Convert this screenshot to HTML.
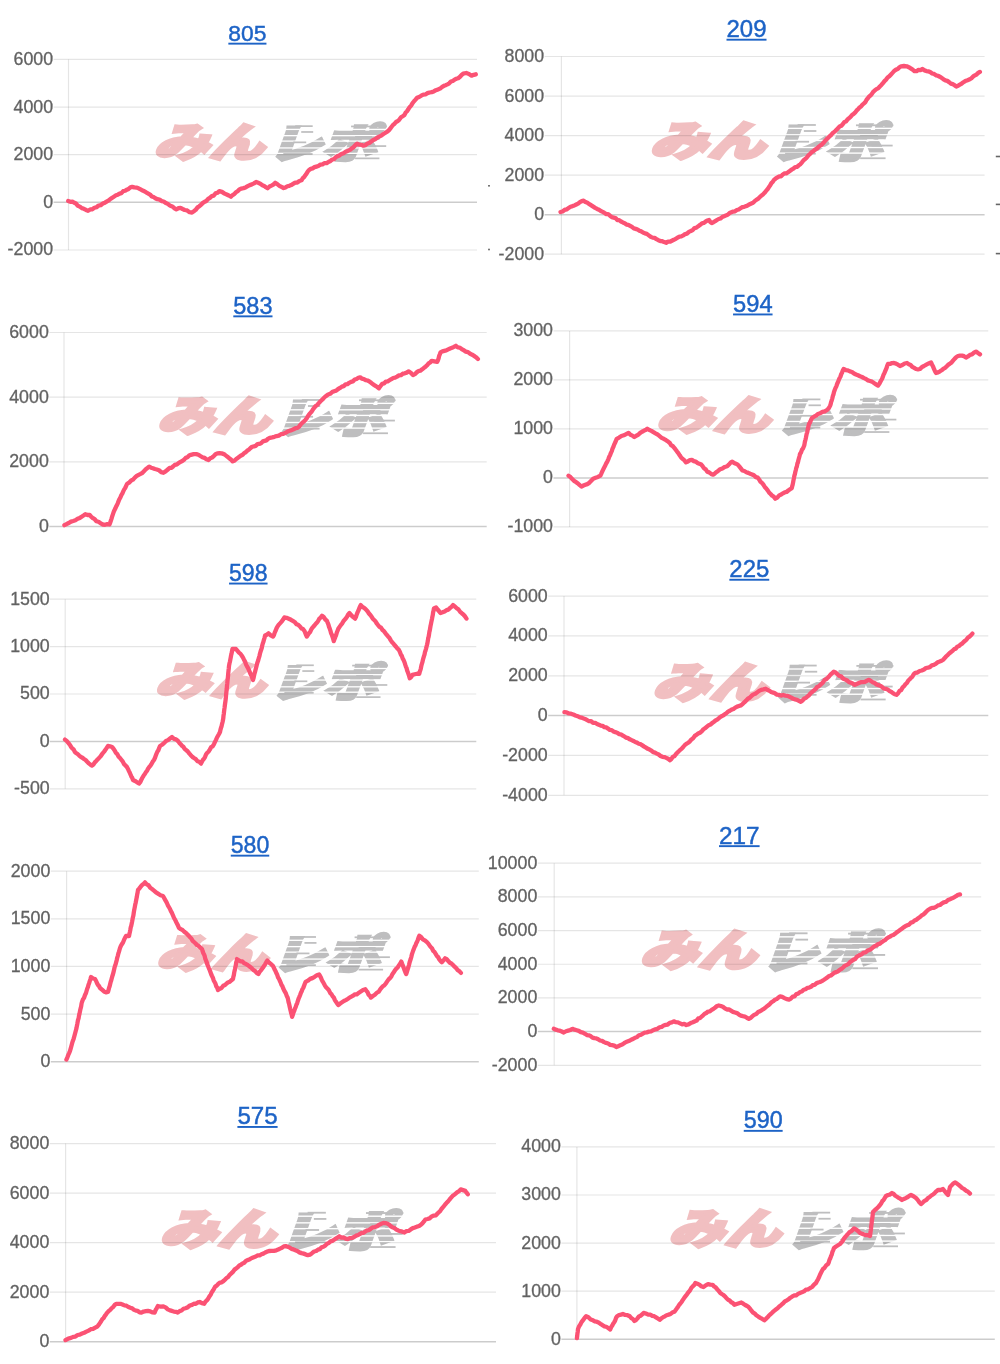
<!DOCTYPE html>
<html lang="ja"><head><meta charset="utf-8"><title>charts</title>
<style>
html,body{margin:0;padding:0;background:#fff;}
body{width:1000px;height:1364px;overflow:hidden;position:relative;}
svg{position:absolute;left:0;top:0;display:block;filter:blur(0.35px);}
.lb{font-family:"Liberation Sans",Arial,sans-serif;font-size:17.8px;fill:#626262;text-anchor:end;stroke:#626262;stroke-width:0.3;}
.tt{font-family:"Liberation Sans",Arial,sans-serif;font-size:23.3px;fill:#1d63c6;text-anchor:middle;stroke:#1d63c6;stroke-width:0.45;}
.ln{fill:none;stroke:#fb5274;stroke-width:4.3;stroke-linejoin:round;stroke-linecap:round;}
.wmp{font-family:"Noto Sans CJK JP","Noto Sans CJK SC",sans-serif;font-weight:900;font-size:40px;fill:#f1bfc1;stroke:#f1bfc1;stroke-width:3;stroke-linejoin:miter;}
.wmg{font-family:"Noto Sans CJK JP","Noto Sans CJK SC",sans-serif;font-weight:900;font-size:40px;fill:#bebebf;stroke:#bebebf;stroke-width:3;stroke-linejoin:miter;}
</style></head>
<body>
<svg width="1000" height="1364" viewBox="0 0 1000 1364">
<defs><mask id="stripe" maskContentUnits="userSpaceOnUse"><rect x="100" y="-5" width="150" height="50" fill="#fff"/><rect x="100" y="7" width="150" height="1.3" fill="#000"/><rect x="100" y="13.2" width="150" height="1.3" fill="#000"/><rect x="100" y="18.6" width="150" height="1.3" fill="#000"/><rect x="100" y="25.4" width="150" height="1.3" fill="#000"/><rect x="100" y="30.8" width="150" height="1.3" fill="#000"/></mask></defs>
<g transform="translate(155.6,121.7) scale(0.9974,1.0075)"><text class="wmp" transform="translate(-2,34.6) skewX(-20) scale(1.38,1)">みん</text><g mask="url(#stripe)"><text class="wmg" transform="translate(112.3,36) skewX(-20) scale(1.355,1)">レポ</text></g><rect x="140" y="3.55" width="17.5" height="1.7" fill="#bebebf"/><rect x="146" y="9.35" width="12" height="1.7" fill="#bebebf"/><rect x="138" y="19.65" width="13" height="1.7" fill="#bebebf"/><rect x="128" y="31.15" width="29.4" height="1.7" fill="#bebebf"/><rect x="200" y="14.25" width="17" height="1.7" fill="#bebebf"/><rect x="211" y="23.35" width="20.2" height="1.7" fill="#bebebf"/><rect x="200" y="35.55" width="24.4" height="1.7" fill="#bebebf"/><rect x="196" y="3.85" width="35.9" height="1.7" fill="#bebebf"/></g>
<line x1="53.6" y1="59.4" x2="477" y2="59.4" stroke="rgba(0,0,0,0.1)" stroke-width="1.2"/>
<line x1="53.6" y1="107.05" x2="477" y2="107.05" stroke="rgba(0,0,0,0.1)" stroke-width="1.2"/>
<line x1="53.6" y1="154.7" x2="477" y2="154.7" stroke="rgba(0,0,0,0.1)" stroke-width="1.2"/>
<line x1="53.6" y1="202.35" x2="477" y2="202.35" stroke="rgba(0,0,0,0.2)" stroke-width="1.5"/>
<line x1="53.6" y1="250" x2="477" y2="250" stroke="rgba(0,0,0,0.1)" stroke-width="1.2"/>
<line x1="68.5" y1="59.4" x2="68.5" y2="250" stroke="rgba(0,0,0,0.1)" stroke-width="1.2"/>
<text x="53.1" y="64.87" class="lb">6000</text>
<text x="53.1" y="112.52" class="lb">4000</text>
<text x="53.1" y="160.17" class="lb">2000</text>
<text x="53.1" y="207.82" class="lb">0</text>
<text x="53.1" y="255.47" class="lb">-2000</text>
<path d="M68.2 201 L70.3 201.81 L72.4 201.6 L74.23 202.78 L76.05 203.56 L77.88 205.8 L79.7 206.6 L81.8 208.13 L83.9 208.79 L86 209.94 L88.1 210.8 L90.2 209.44 L92.3 209.29 L94.4 207.81 L96.5 207.2 L98.6 205.52 L100.7 205.2 L102.8 203.55 L104.9 202.7 L107 201.4 L108.8 200.41 L110.6 198.78 L112.4 197.71 L114.2 196.52 L116 195.29 L117.8 194.7 L119.6 193.6 L121.4 193.15 L123.2 191.21 L125 190.77 L126.8 189.73 L128.6 188.93 L130.4 187.4 L132.2 186.9 L134.3 187.45 L136.4 187.58 L138.5 188.3 L140.6 189.43 L142.7 190.59 L144.8 191.5 L146.55 192.6 L148.3 193.57 L150.05 194.57 L151.8 196.44 L153.55 197.03 L155.3 198.2 L157.4 199.19 L159.5 199.59 L161.6 201.09 L163.7 201.5 L165.8 203 L167.55 203.66 L169.3 205.07 L171.05 206.02 L172.8 206.71 L174.55 208.35 L176.3 209.3 L178.4 208.23 L180.5 207.9 L182.6 209.01 L184.7 210 L187.13 210.44 L189.57 212.15 L192 212.5 L193.85 211.22 L195.7 209.85 L197.55 207.38 L199.4 206.2 L201.15 204.59 L202.9 202.89 L204.65 201.75 L206.4 200.94 L208.15 198.85 L209.9 197.8 L211.78 196.08 L213.66 195.62 L215.54 193.4 L217.42 192.81 L219.3 191.1 L221.95 191.85 L224.6 193.6 L226.7 194.51 L228.8 195.5 L230.9 196.7 L232.58 195.07 L234.26 194.13 L235.94 192.29 L237.62 191.17 L239.3 189.4 L241.4 188.57 L243.5 188.15 L245.6 187.42 L247.7 186.2 L249.8 185.08 L251.9 184.41 L254 183.4 L256.1 182 L258.2 182.84 L260.3 183.72 L262.4 185.2 L264.13 185.89 L265.87 187.2 L267.6 188.3 L269.5 186.51 L271.4 185.58 L273.3 184.54 L275.2 182.8 L277.3 184.11 L279.4 185.8 L281.5 186.95 L283.6 188.1 L285.5 187.42 L287.4 186.25 L289.3 185.8 L291.2 185.08 L293.1 183.9 L295.2 182.62 L297.3 182.55 L299.4 180.95 L301.5 180.3 L302.72 178.24 L303.93 177.31 L305.15 175.49 L306.37 173.89 L307.58 171.82 L308.8 170.2 L310.7 168.89 L312.6 168.4 L314.5 167.18 L316.4 166.6 L318.3 166 L320.4 164.65 L322.5 164.33 L324.6 163.03 L326.7 163.12 L328.8 161.8 L330.55 160.97 L332.3 159.5 L334.05 159.14 L335.8 157.12 L337.55 156.28 L339.3 155.5 L341.4 153.91 L343.5 153.18 L345.6 151.81 L347.7 150.91 L349.8 149.9 L351.62 148.55 L353.45 147.18 L355.28 145.18 L357.1 143.6 L359.2 144.65 L361.3 144.85 L363.4 145.7 L365.25 145.14 L367.1 143.82 L368.95 143.07 L370.8 141.9 L372.9 140.22 L375 139.34 L377.1 137.71 L379.2 136.6 L381.3 135.64 L383.4 134.04 L385.5 132.7 L387.6 131.4 L389 130.13 L390.4 128.32 L391.8 126.52 L393.2 124.73 L394.6 123.7 L396 122 L397.68 121.07 L399.36 119.58 L401.04 117.33 L402.72 116.21 L404.4 115 L405.7 112.5 L407 111.29 L408.3 109.3 L409.6 107.2 L411.08 105.6 L412.56 103.05 L414.04 101.25 L415.52 99.61 L417 97.8 L419.1 97.01 L421.2 95.7 L423.3 94.58 L425.4 94.46 L427.5 93.17 L429.6 92.5 L431.7 92.14 L433.8 91.46 L435.9 90.22 L438 89.4 L440.1 88.61 L442.2 86.9 L443.95 85.83 L445.7 85.14 L447.45 84.33 L449.2 83.34 L450.95 81.54 L452.7 81 L454.52 79.69 L456.35 78.8 L458.18 78.24 L460 76.8 L461.6 75 L463.2 73.7 L466.3 73 L468.95 73.93 L471.6 75.7 L473.7 74.86 L475.8 74.3" class="ln"/>
<a href="#"><text x="247.4" y="40.58" class="tt" style="font-size:22.84px">805</text></a>
<rect x="228.35" y="42.7" width="38.1" height="1.9" fill="#1d63c6"/>
<g transform="translate(651.7,120.4) scale(1.0422,1.0400)"><text class="wmp" transform="translate(-2,34.6) skewX(-20) scale(1.38,1)">みん</text><g mask="url(#stripe)"><text class="wmg" transform="translate(112.3,36) skewX(-20) scale(1.355,1)">レポ</text></g><rect x="140" y="3.55" width="17.5" height="1.7" fill="#bebebf"/><rect x="146" y="9.35" width="12" height="1.7" fill="#bebebf"/><rect x="138" y="19.65" width="13" height="1.7" fill="#bebebf"/><rect x="128" y="31.15" width="29.4" height="1.7" fill="#bebebf"/><rect x="200" y="14.25" width="17" height="1.7" fill="#bebebf"/><rect x="211" y="23.35" width="20.2" height="1.7" fill="#bebebf"/><rect x="200" y="35.55" width="24.4" height="1.7" fill="#bebebf"/><rect x="196" y="3.85" width="35.9" height="1.7" fill="#bebebf"/></g>
<line x1="544.6" y1="56.5" x2="984.6" y2="56.5" stroke="rgba(0,0,0,0.1)" stroke-width="1.2"/>
<line x1="544.6" y1="96.04" x2="984.6" y2="96.04" stroke="rgba(0,0,0,0.1)" stroke-width="1.2"/>
<line x1="544.6" y1="135.58" x2="984.6" y2="135.58" stroke="rgba(0,0,0,0.1)" stroke-width="1.2"/>
<line x1="544.6" y1="175.12" x2="984.6" y2="175.12" stroke="rgba(0,0,0,0.1)" stroke-width="1.2"/>
<line x1="544.6" y1="214.66" x2="984.6" y2="214.66" stroke="rgba(0,0,0,0.2)" stroke-width="1.5"/>
<line x1="544.6" y1="254.2" x2="984.6" y2="254.2" stroke="rgba(0,0,0,0.1)" stroke-width="1.2"/>
<line x1="561.4" y1="56.5" x2="561.4" y2="254.2" stroke="rgba(0,0,0,0.1)" stroke-width="1.2"/>
<text x="544.1" y="61.97" class="lb">8000</text>
<text x="544.1" y="101.51" class="lb">6000</text>
<text x="544.1" y="141.05" class="lb">4000</text>
<text x="544.1" y="180.59" class="lb">2000</text>
<text x="544.1" y="220.13" class="lb">0</text>
<text x="544.1" y="259.67" class="lb">-2000</text>
<path d="M560.5 212 L562.52 211.47 L564.53 209.95 L566.55 209.43 L568.57 208.03 L570.58 206.7 L572.6 206.1 L574.43 205.41 L576.27 204.51 L578.1 203.66 L579.93 202.12 L581.77 201.08 L583.6 200.6 L585.52 202.11 L587.45 202.84 L589.38 204.17 L591.3 205.37 L593.23 206.64 L595.15 207.9 L597.08 208.97 L599 209.8 L600.83 211.06 L602.67 211.9 L604.5 212.94 L606.33 214.13 L608.17 214.16 L610 215.69 L611.83 217.14 L613.67 217.62 L615.5 218.06 L617.33 220.02 L619.17 220.14 L621 221.5 L622.83 222.46 L624.67 223.18 L626.5 224.54 L628.33 224.84 L630.17 225.87 L632 226.87 L633.83 228.38 L635.67 228.86 L637.5 229.53 L639.33 230.65 L641.17 231.36 L643 232.5 L644.92 233.35 L646.85 233.89 L648.77 235.35 L650.7 236.83 L652.62 237.62 L654.55 237.88 L656.48 239.15 L658.4 240.2 L660.33 241.02 L662.25 241.18 L664.17 242.08 L666.1 242.8 L668.02 241.65 L669.95 241.71 L671.88 240.74 L673.8 239.8 L675.69 238.76 L677.57 237.68 L679.46 236.6 L681.34 236.38 L683.23 235.44 L685.11 234.04 L687 233.6 L688.89 231.86 L690.77 231.04 L692.66 230.1 L694.54 228.03 L696.43 227.64 L698.31 226.17 L700.2 224.8 L701.96 223.31 L703.72 222.91 L705.48 221.65 L707.24 220.49 L709 220 L710.35 221.97 L711.7 223 L713.45 222.19 L715.2 221.16 L716.95 220.01 L718.7 219 L720.45 218.51 L722.2 217.1 L724.03 216.35 L725.87 215.43 L727.7 214.76 L729.53 213.09 L731.37 212.35 L733.2 211.6 L735.03 211.29 L736.87 209.98 L738.7 209.48 L740.53 208.3 L742.37 207.16 L744.2 206.8 L746.4 206.02 L748.6 204.76 L750.8 203.8 L753 202.8 L754.65 201.17 L756.3 199.9 L757.95 198.94 L759.6 197.3 L761.25 195.69 L762.9 194.48 L764.55 192.84 L766.2 190.7 L767.5 189.37 L768.8 187.26 L770.1 185.56 L771.4 183.13 L772.7 181.97 L774 179.9 L775.76 178.48 L777.51 177.46 L779.27 176.45 L781.02 176.39 L782.78 174.51 L784.53 173.43 L786.29 173.33 L788.04 172.18 L789.8 170.9 L791.6 169.63 L793.4 168.67 L795.2 167.04 L797 166.94 L798.8 165.3 L800.4 164.2 L802 162.31 L803.6 160.18 L805.2 159.01 L806.8 157.39 L808.4 155.4 L810 154 L811.69 152.14 L813.38 151.17 L815.06 149.69 L816.75 148.73 L818.44 146.93 L820.12 145.64 L821.81 144.57 L823.5 142.8 L825 140.99 L826.5 139.35 L828 137.89 L829.5 136.45 L831 135.12 L832.5 133.25 L834 132.08 L835.5 130.86 L837 129.3 L838.5 127.53 L840 126.23 L841.5 125.67 L843 123.8 L844.5 121.97 L846 121.51 L847.5 119.41 L849 118.24 L850.5 116.9 L852 115.1 L853.5 113.99 L855 112.72 L856.5 110.66 L858 109.19 L859.5 107.6 L861 106.55 L862.5 104.6 L864 103.4 L865.29 102.17 L866.57 99.74 L867.86 98.25 L869.14 96.48 L870.43 95.58 L871.71 94.12 L873 92.1 L874.7 90.44 L876.4 89.15 L878.1 88.37 L879.8 86.5 L881.36 84.98 L882.92 83.08 L884.48 81.07 L886.04 79.61 L887.6 77.5 L889.3 76.29 L891 74.44 L892.7 72.64 L894.4 70.8 L896.08 69.63 L897.75 69.08 L899.42 67.36 L901.1 66.3 L903.95 66 L906.8 66.3 L908.75 67.16 L910.7 68.36 L912.65 69.64 L914.6 71.2 L916.58 71.19 L918.55 69.83 L920.52 70.07 L922.5 69 L924.43 70.37 L926.36 71.07 L928.29 71.38 L930.21 72.05 L932.14 73.49 L934.07 73.92 L936 75.3 L937.88 75.74 L939.77 76.73 L941.65 77.83 L943.53 79.31 L945.42 80.41 L947.3 80.9 L949.1 82.13 L950.9 83.58 L952.7 84.16 L954.5 85.18 L956.3 86.5 L958.53 85.46 L960.77 84.18 L963 82.5 L965.27 81.09 L967.53 80.26 L969.8 79.3 L971.48 78.19 L973.17 76.43 L974.85 75.47 L976.53 74.56 L978.22 72.88 L979.9 71.9" class="ln"/>
<a href="#"><text x="746.5" y="37.04" class="tt" style="font-size:23.98px">209</text></a>
<rect x="726.5" y="38.75" width="40" height="1.9" fill="#1d63c6"/>
<g transform="translate(159,395.4) scale(1.0203,1.0400)"><text class="wmp" transform="translate(-2,34.6) skewX(-20) scale(1.38,1)">みん</text><g mask="url(#stripe)"><text class="wmg" transform="translate(112.3,36) skewX(-20) scale(1.355,1)">レポ</text></g><rect x="140" y="3.55" width="17.5" height="1.7" fill="#bebebf"/><rect x="146" y="9.35" width="12" height="1.7" fill="#bebebf"/><rect x="138" y="19.65" width="13" height="1.7" fill="#bebebf"/><rect x="128" y="31.15" width="29.4" height="1.7" fill="#bebebf"/><rect x="200" y="14.25" width="17" height="1.7" fill="#bebebf"/><rect x="211" y="23.35" width="20.2" height="1.7" fill="#bebebf"/><rect x="200" y="35.55" width="24.4" height="1.7" fill="#bebebf"/><rect x="196" y="3.85" width="35.9" height="1.7" fill="#bebebf"/></g>
<line x1="49.3" y1="332.5" x2="486.7" y2="332.5" stroke="rgba(0,0,0,0.1)" stroke-width="1.2"/>
<line x1="49.3" y1="397.2" x2="486.7" y2="397.2" stroke="rgba(0,0,0,0.1)" stroke-width="1.2"/>
<line x1="49.3" y1="461.8" x2="486.7" y2="461.8" stroke="rgba(0,0,0,0.1)" stroke-width="1.2"/>
<line x1="49.3" y1="526.5" x2="486.7" y2="526.5" stroke="rgba(0,0,0,0.2)" stroke-width="1.5"/>
<line x1="64" y1="332.5" x2="64" y2="526.5" stroke="rgba(0,0,0,0.1)" stroke-width="1.2"/>
<text x="48.8" y="337.97" class="lb">6000</text>
<text x="48.8" y="402.67" class="lb">4000</text>
<text x="48.8" y="467.27" class="lb">2000</text>
<text x="48.8" y="531.97" class="lb">0</text>
<path d="M64.4 525.2 L66.6 524.04 L68.8 523.06 L71 521.6 L73.2 520.99 L75.4 520.26 L77.6 518.8 L79.8 517.9 L81.63 516.68 L83.47 515.47 L85.3 514.2 L87.5 514.99 L89.7 515 L91.35 516.89 L93 518.19 L94.65 519.12 L96.3 521.2 L98.5 521.8 L100.7 523.34 L102.9 524.5 L105.1 524.8 L107.3 524.14 L109.5 524.5 L110.16 522.74 L110.82 520.81 L111.48 518.88 L112.14 516.51 L112.8 514.6 L113.62 512.13 L114.45 510.21 L115.28 508.59 L116.1 506.59 L116.92 505.17 L117.75 503.32 L118.58 501.13 L119.4 499.2 L120.36 497.53 L121.33 495.11 L122.29 493.6 L123.25 491.37 L124.21 489.37 L125.17 488 L126.14 485.93 L127.1 483.8 L129.03 482.74 L130.95 480.73 L132.88 479.66 L134.8 477.6 L136.73 475.92 L138.65 474.86 L140.57 473.92 L142.5 472.8 L144.15 471.11 L145.8 469.17 L147.45 467.93 L149.1 466.6 L151.03 467.7 L152.95 468.23 L154.88 469.02 L156.8 469.5 L159 470.26 L161.2 472.12 L163.4 472.8 L165.6 471.36 L167.8 469.5 L169.63 467.96 L171.47 467.79 L173.3 466.24 L175.13 464.6 L176.97 464.48 L178.8 462.9 L180.53 461.9 L182.26 461.01 L183.99 459.72 L185.71 457.89 L187.44 457.29 L189.17 455.52 L190.9 454.8 L193.65 454.08 L196.4 454.1 L198.42 454.69 L200.43 456.01 L202.45 457.27 L204.47 457.88 L206.48 459.24 L208.5 460 L210.26 458.19 L212.02 457.52 L213.78 456.04 L215.54 454.23 L217.3 453.4 L219.5 453.23 L221.7 453.41 L223.9 454.1 L225.66 455.39 L227.42 456.65 L229.18 458.27 L230.94 459.59 L232.7 461.4 L234.68 460.47 L236.66 458.68 L238.64 457.22 L240.62 455.77 L242.6 454.8 L244.14 453.08 L245.68 452.28 L247.22 450.68 L248.76 449.73 L250.3 448.2 L252.09 446.76 L253.88 446.36 L255.66 445.82 L257.45 444.18 L259.24 443.9 L261.03 443.25 L262.81 441.42 L264.6 440.9 L266.4 440.36 L268.2 438.6 L270 437.8 L272.2 437.38 L274.4 436.84 L276.6 436.04 L278.8 435.6 L281 434.24 L283.2 433.93 L285.4 432.79 L287.6 431.6 L289.58 430.81 L291.56 430.18 L293.54 429.21 L295.52 428.22 L297.5 427.9 L299.04 426.62 L300.58 424.49 L302.12 422.95 L303.66 421.66 L305.2 420.2 L306.46 418.72 L307.71 416.51 L308.97 414.64 L310.23 413.13 L311.49 411.76 L312.74 409.87 L314 408.1 L315.51 406.14 L317.02 405.26 L318.54 403.38 L320.05 401.7 L321.56 400.23 L323.08 398.81 L324.59 397.12 L326.1 396 L328.12 394.47 L330.13 393.8 L332.15 392.08 L334.17 391.24 L336.18 390.65 L338.2 389 L340.03 387.99 L341.87 386.62 L343.7 386.09 L345.53 384.36 L347.37 384.19 L349.2 382.8 L351.03 381.84 L352.87 381.36 L354.7 379.54 L356.53 379 L358.37 377.78 L360.2 377.3 L362.03 378.69 L363.87 379.07 L365.7 380.17 L367.53 380.51 L369.37 381.46 L371.2 382.8 L373.12 384.43 L375.05 385.57 L376.97 386.78 L378.9 388.3 L380.55 386.06 L382.2 383.9 L384.03 383.46 L385.87 381.57 L387.7 381.34 L389.53 380.23 L391.37 379.23 L393.2 378 L395.12 377.62 L397.05 376.63 L398.98 375.37 L400.9 375.16 L402.82 373.72 L404.75 373.31 L406.68 372.61 L408.6 371.4 L410.8 372.76 L413 375.1 L414.83 374.17 L416.67 372.38 L418.5 371.1 L420.33 370.72 L422.17 369.34 L424 367.8 L425.54 366.67 L427.08 365.23 L428.62 363.44 L430.16 362.48 L431.7 360.8 L434.45 361.31 L437.2 361.9 L437.86 360.55 L438.52 358.65 L439.18 355.79 L439.84 354.24 L440.5 352.4 L442.43 351.36 L444.35 350.84 L446.27 350.4 L448.2 349.4 L450.12 348.51 L452.05 347.81 L453.97 346.9 L455.9 345.8 L457.82 347.44 L459.75 347.61 L461.68 349.05 L463.6 350.2 L465.8 351.57 L468 352.08 L470.2 353.8 L472.12 354.67 L474.05 355.88 L475.97 357.18 L477.9 359" class="ln"/>
<a href="#"><text x="252.9" y="313.51" class="tt" style="font-size:23.5px">583</text></a>
<rect x="233.3" y="315.4" width="39.2" height="1.9" fill="#1d63c6"/>
<g transform="translate(658,394.9) scale(1.0310,1.0200)"><text class="wmp" transform="translate(-2,34.6) skewX(-20) scale(1.38,1)">みん</text><g mask="url(#stripe)"><text class="wmg" transform="translate(112.3,36) skewX(-20) scale(1.355,1)">レポ</text></g><rect x="140" y="3.55" width="17.5" height="1.7" fill="#bebebf"/><rect x="146" y="9.35" width="12" height="1.7" fill="#bebebf"/><rect x="138" y="19.65" width="13" height="1.7" fill="#bebebf"/><rect x="128" y="31.15" width="29.4" height="1.7" fill="#bebebf"/><rect x="200" y="14.25" width="17" height="1.7" fill="#bebebf"/><rect x="211" y="23.35" width="20.2" height="1.7" fill="#bebebf"/><rect x="200" y="35.55" width="24.4" height="1.7" fill="#bebebf"/><rect x="196" y="3.85" width="35.9" height="1.7" fill="#bebebf"/></g>
<line x1="553.5" y1="330.9" x2="988.3" y2="330.9" stroke="rgba(0,0,0,0.1)" stroke-width="1.2"/>
<line x1="553.5" y1="379.9" x2="988.3" y2="379.9" stroke="rgba(0,0,0,0.1)" stroke-width="1.2"/>
<line x1="553.5" y1="428.9" x2="988.3" y2="428.9" stroke="rgba(0,0,0,0.1)" stroke-width="1.2"/>
<line x1="553.5" y1="477.9" x2="988.3" y2="477.9" stroke="rgba(0,0,0,0.2)" stroke-width="1.5"/>
<line x1="553.5" y1="526.9" x2="988.3" y2="526.9" stroke="rgba(0,0,0,0.1)" stroke-width="1.2"/>
<line x1="569.6" y1="330.9" x2="569.6" y2="526.9" stroke="rgba(0,0,0,0.1)" stroke-width="1.2"/>
<text x="553" y="336.37" class="lb">3000</text>
<text x="553" y="385.37" class="lb">2000</text>
<text x="553" y="434.37" class="lb">1000</text>
<text x="553" y="483.37" class="lb">0</text>
<text x="553" y="532.37" class="lb">-1000</text>
<path d="M568.5 475.7 L570.47 477.11 L572.43 479.19 L574.4 481.1 L576.17 482.16 L577.95 483.5 L579.73 485.15 L581.5 486.5 L583.43 485.54 L585.37 484.77 L587.3 484.1 L589.27 482.84 L591.23 480.8 L593.2 478.7 L595.57 477.73 L597.93 476.96 L600.3 475.7 L601.21 473.87 L602.12 471.74 L603.03 469.83 L603.94 467.99 L604.86 466.29 L605.77 464.32 L606.68 462.65 L607.59 460.9 L608.5 458.8 L609.32 456.51 L610.14 455.1 L610.96 452.84 L611.78 451.16 L612.6 448.42 L613.42 446.83 L614.24 444.41 L615.06 442.84 L615.88 440.95 L616.7 438.8 L619.07 437.57 L621.43 436 L623.8 435.3 L626.15 434.13 L628.5 432.9 L630.43 434.77 L632.37 435.62 L634.3 437.1 L636.27 435.69 L638.23 434.8 L640.2 432.9 L641.98 431.75 L643.75 430.77 L645.52 430.11 L647.3 428.7 L649.35 430.05 L651.4 430.88 L653.45 432.18 L655.5 433.4 L657.55 434.47 L659.6 436.18 L661.65 437.87 L663.7 438.8 L666.05 440.14 L668.4 441.8 L669.82 442.99 L671.24 445.37 L672.66 445.99 L674.08 447.64 L675.5 449.4 L676.9 451.32 L678.3 453.05 L679.7 455.28 L681.1 457.39 L682.5 458.8 L684.25 460.11 L686 462.3 L687.97 461.42 L689.93 460.17 L691.9 459.9 L693.78 461.08 L695.66 461.62 L697.54 462.97 L699.42 463.86 L701.3 464.6 L702.77 466.38 L704.25 468.45 L705.73 469.4 L707.2 471.7 L709.17 472.4 L711.13 473.91 L713.1 474.7 L714.85 473.42 L716.6 471.94 L718.35 470.68 L720.1 469.3 L722.47 468.38 L724.83 466.96 L727.2 466.3 L728.9 464.57 L730.6 462.68 L732.3 461.6 L734.1 462.97 L735.9 463.7 L737.7 464.6 L739.27 466.39 L740.83 468.36 L742.4 470.5 L744.37 471.01 L746.33 472.21 L748.3 472.9 L750.18 473.73 L752.06 474.43 L753.94 475.28 L755.82 477.07 L757.7 477.6 L759.12 479.45 L760.54 481.79 L761.96 482.87 L763.38 484.62 L764.8 487 L766.25 488.53 L767.7 490.42 L769.15 492.65 L770.6 494 L772.17 495.72 L773.73 496.6 L775.3 498.7 L777.27 497.61 L779.23 495.42 L781.2 494.5 L782.98 493.32 L784.75 492.31 L786.52 491.98 L788.3 490.5 L790.05 489.23 L791.8 488.1 L792.24 486.08 L792.67 484.57 L793.11 482.34 L793.55 479.87 L793.99 477.95 L794.42 475.48 L794.86 474.22 L795.3 472 L795.82 469.96 L796.34 467.65 L796.87 466.5 L797.39 463.54 L797.91 462.47 L798.43 460 L798.96 458.24 L799.48 456.3 L800 454 L801 452.5 L802 449.65 L803 448.52 L804 446 L804.45 444.52 L804.91 441.61 L805.36 440.05 L805.82 438.18 L806.27 435.93 L806.73 433.53 L807.18 432.46 L807.64 430.04 L808.09 428.02 L808.55 426.04 L809 424 L810 422.47 L811 419.98 L812 418 L814 416.72 L816 415.65 L818 414 L820.25 413.15 L822.5 411.85 L824.75 411.29 L827 410 L828.5 408.53 L830 406 L830.57 404.53 L831.14 401.93 L831.71 400.48 L832.29 398.48 L832.86 396.03 L833.43 394.48 L834 392 L834.8 389.75 L835.6 387.67 L836.4 386.21 L837.2 383.74 L838 382 L838.8 379.9 L839.6 378.07 L840.4 376.75 L841.2 374.23 L842 372.95 L842.8 370.44 L843.6 369 L845.7 370.02 L847.8 370.38 L849.9 371.39 L852 372 L854 373.52 L856 374.51 L858 375.28 L860 376.23 L862 377 L864 378.12 L866 379.02 L868 380.4 L870 381 L872 381.63 L874 383.08 L876 384.41 L878 385.6 L879.33 383.82 L880.67 381.2 L882 379 L882.75 377.15 L883.5 374.79 L884.25 373.47 L885 371.65 L885.75 369.88 L886.5 368.14 L887.25 365.57 L888 364 L890 363.97 L892 363.06 L894 363 L896 363.63 L898 364.68 L900 366 L902.33 365.04 L904.67 363.49 L907 363 L908.8 364.24 L910.6 364.98 L912.4 366.93 L914.2 367.88 L916 369 L918 369.4 L920 369 L922 366.95 L924 366 L926.33 364.67 L928.67 363.46 L931 362.4 L932 364.53 L933 366.41 L934 368.95 L935 371.27 L936 373 L938 372.42 L940 371.32 L942 370 L943.6 368.66 L945.2 367.81 L946.8 366.18 L948.4 364.63 L950 363.6 L951.6 362.43 L953.2 360.46 L954.8 358.61 L956.4 357 L958 356 L960 355.55 L962 355.6 L964 356.18 L966 357.6 L968 356.48 L970 354.85 L972 354.48 L974 352.73 L976 351.6 L978 353.08 L980 354.4" class="ln"/>
<a href="#"><text x="752.8" y="311.68" class="tt" style="font-size:23.68px">594</text></a>
<rect x="733.05" y="313.5" width="39.5" height="1.9" fill="#1d63c6"/>
<g transform="translate(156.7,660.9) scale(0.9974,0.9950)"><text class="wmp" transform="translate(-2,34.6) skewX(-20) scale(1.38,1)">みん</text><g mask="url(#stripe)"><text class="wmg" transform="translate(112.3,36) skewX(-20) scale(1.355,1)">レポ</text></g><rect x="140" y="3.55" width="17.5" height="1.7" fill="#bebebf"/><rect x="146" y="9.35" width="12" height="1.7" fill="#bebebf"/><rect x="138" y="19.65" width="13" height="1.7" fill="#bebebf"/><rect x="128" y="31.15" width="29.4" height="1.7" fill="#bebebf"/><rect x="200" y="14.25" width="17" height="1.7" fill="#bebebf"/><rect x="211" y="23.35" width="20.2" height="1.7" fill="#bebebf"/><rect x="200" y="35.55" width="24.4" height="1.7" fill="#bebebf"/><rect x="196" y="3.85" width="35.9" height="1.7" fill="#bebebf"/></g>
<line x1="49.6" y1="599.2" x2="476.3" y2="599.2" stroke="rgba(0,0,0,0.1)" stroke-width="1.2"/>
<line x1="49.6" y1="646.6" x2="476.3" y2="646.6" stroke="rgba(0,0,0,0.1)" stroke-width="1.2"/>
<line x1="49.6" y1="694" x2="476.3" y2="694" stroke="rgba(0,0,0,0.1)" stroke-width="1.2"/>
<line x1="49.6" y1="741.4" x2="476.3" y2="741.4" stroke="rgba(0,0,0,0.2)" stroke-width="1.5"/>
<line x1="49.6" y1="788.8" x2="476.3" y2="788.8" stroke="rgba(0,0,0,0.1)" stroke-width="1.2"/>
<line x1="65.2" y1="599.2" x2="65.2" y2="788.8" stroke="rgba(0,0,0,0.1)" stroke-width="1.2"/>
<text x="49.7" y="604.67" class="lb">1500</text>
<text x="49.7" y="652.07" class="lb">1000</text>
<text x="49.7" y="699.47" class="lb">500</text>
<text x="49.7" y="746.87" class="lb">0</text>
<text x="49.7" y="794.27" class="lb">-500</text>
<path d="M65 739.6 L66.67 740.88 L68.33 742.88 L70 745 L71.2 747.15 L72.4 748.43 L73.6 749.36 L74.8 751.86 L76 753 L77.6 754.03 L79.2 755.53 L80.8 756.87 L82.4 757.75 L84 759 L85.6 760.03 L87.2 761.8 L88.8 763.33 L90.4 764.58 L92 765.6 L93.4 764.51 L94.8 762.37 L96.2 760.98 L97.6 759.4 L99 758 L100.29 756.64 L101.57 754.88 L102.86 753.06 L104.14 751.62 L105.43 749.83 L106.71 747.9 L108 746 L110 746.28 L112 747 L113.33 748.5 L114.67 750.41 L116 752.99 L117.33 754.16 L118.67 756.71 L120 758 L121.33 759.7 L122.67 761.36 L124 763.95 L125.33 765.44 L126.67 766.68 L128 769 L128.83 770.89 L129.67 772.53 L130.5 774.51 L131.33 776.46 L132.17 777.69 L133 780 L135 780.93 L137 782.2 L139 783.6 L140.17 782.19 L141.33 779.79 L142.5 777.53 L143.67 775.54 L144.83 774.05 L146 772 L147.14 770.56 L148.29 768.35 L149.43 766.67 L150.57 765.48 L151.71 763.58 L152.86 761.4 L154 760 L154.86 758.15 L155.71 755.85 L156.57 753.51 L157.43 751.53 L158.29 750.43 L159.14 748.06 L160 746 L162 744.75 L164 743.13 L166 741 L168 740.11 L170 738.49 L172 737 L174 738.82 L176 739.29 L178 741 L179.33 742.88 L180.67 744.2 L182 745.81 L183.33 746.78 L184.67 748.83 L186 750 L187.6 751.29 L189.2 753.33 L190.8 755.17 L192.4 756.89 L194 758 L195.75 759.08 L197.5 761.29 L199.25 761.78 L201 763.6 L202 761.63 L203 759.74 L204 758.69 L205 757.04 L206 754.39 L207 753 L208.4 751.71 L209.8 749.65 L211.2 747.07 L212.6 746.28 L214 744 L215 741.92 L216 739.91 L217 737.53 L218 735.75 L219 733.98 L220 732 L220.5 729.6 L221 727.82 L221.5 726.47 L222 724.12 L222.5 722.21 L223 720 L223.26 718.47 L223.52 715.53 L223.78 714.02 L224.04 711.68 L224.3 709.47 L224.56 707.73 L224.82 705.64 L225.08 703.63 L225.34 701.88 L225.6 700 L225.8 698.33 L226 695.91 L226.2 693.87 L226.4 691.71 L226.6 690.11 L226.8 688.31 L227 685.46 L227.2 683.99 L227.4 681.9 L227.6 679.63 L227.8 678.35 L228 676.14 L228.2 673.7 L228.4 671.81 L228.6 669.86 L228.8 668.28 L229 666 L229.43 663.52 L229.85 662 L230.28 659.86 L230.7 657.57 L231.12 655.25 L231.55 653.67 L231.97 651.51 L232.4 649 L236 649 L237.5 650.82 L239 652.68 L240.5 653.87 L242 656 L243 657.55 L244 659.65 L245 661.56 L246 664.37 L247 666.43 L248 668 L248.83 669.81 L249.67 671.84 L250.5 673.78 L251.33 675.58 L252.17 677.79 L253 680 L253.5 678.21 L254 675.84 L254.5 673.49 L255 672.07 L255.5 670.03 L256 667.95 L256.5 666.1 L257 664 L257.62 661.99 L258.25 660.18 L258.88 657.8 L259.5 655.8 L260.06 653.24 L260.62 651.32 L261.18 649.71 L261.74 648.08 L262.3 645.28 L262.86 643.18 L263.42 641.76 L263.98 639.48 L264.54 637.84 L265.1 635.5 L266.8 634.72 L268.5 633.3 L270.75 635.38 L273 636.6 L273.9 635.07 L274.8 632.32 L275.7 630.46 L276.6 628.15 L277.5 626.5 L278.86 624.61 L280.22 623.13 L281.58 621.58 L282.94 619.78 L284.3 617.5 L286.53 617.82 L288.77 618.75 L291 619.8 L292.8 620.85 L294.6 621.97 L296.4 624.21 L298.2 624.83 L300 626.5 L301.5 628.5 L303 629.09 L304.5 631 L305.27 633.01 L306.03 634.86 L306.8 636.6 L307.92 634.84 L309.03 633.13 L310.15 632.05 L311.27 629.34 L312.38 627.68 L313.5 626.5 L314.92 624.82 L316.33 623.19 L317.75 621.62 L319.17 618.89 L320.58 617.69 L322 615.7 L323.67 617.02 L325.33 619.49 L327 620.9 L327.68 622.89 L328.36 624.4 L329.04 626.88 L329.72 628.57 L330.4 630.57 L331.08 633.2 L331.76 634.51 L332.44 636.67 L333.12 638.66 L333.8 641.1 L334.55 638.92 L335.3 636.89 L336.05 635.28 L336.8 632.57 L337.55 630.68 L338.3 628.8 L339.54 626.93 L340.79 625.12 L342.03 623.65 L343.28 621.44 L344.52 619.87 L345.77 618.46 L347.01 616.73 L348.26 614.37 L349.5 613 L351.37 615.36 L353.23 617.13 L355.1 618.6 L355.91 617.03 L356.73 614.46 L357.54 612.41 L358.36 610.68 L359.17 608.67 L359.99 606.56 L360.8 605.1 L362.48 606.98 L364.15 607.86 L365.82 609.33 L367.5 611.2 L368.79 613.24 L370.07 614.72 L371.36 616.3 L372.64 618.43 L373.93 619.78 L375.21 620.99 L376.5 623.1 L378 625.05 L379.5 626.81 L381 627.68 L382.5 629.95 L384 631.15 L385.5 633.3 L386.79 634.9 L388.07 636.42 L389.36 637.77 L390.64 640.12 L391.93 641.99 L393.21 643.37 L394.5 645 L396 646.73 L397.5 648.54 L399 650.1 L399.93 651.95 L400.87 654.66 L401.8 655.82 L402.73 658.66 L403.67 660.19 L404.6 662.5 L405.25 664.7 L405.9 666.68 L406.55 667.9 L407.2 670.65 L407.85 672.24 L408.5 674.09 L409.15 676.1 L409.8 678.3 L411.15 676.94 L412.5 674.9 L414.77 674.26 L417.03 673.74 L419.3 673.8 L419.82 671.52 L420.34 670.26 L420.86 668.48 L421.38 665.52 L421.9 663.76 L422.42 662.11 L422.94 659.74 L423.46 657.88 L423.98 656.17 L424.5 654.63 L425.02 651.79 L425.54 650.55 L426.06 648.62 L426.58 646.48 L427.1 644.5 L427.48 642.7 L427.86 640.7 L428.23 638.02 L428.61 636.82 L428.99 634.75 L429.37 631.96 L429.74 630.74 L430.12 628.43 L430.5 626.07 L430.88 624.34 L431.26 622.42 L431.63 620.6 L432.01 618.96 L432.39 616.71 L432.77 615.03 L433.14 612.12 L433.52 610.96 L433.9 608.5 L436.1 607.4 L437.6 609.49 L439.1 611.26 L440.6 613 L442.58 612.31 L444.55 611.53 L446.52 610.14 L448.5 609.6 L450 608.01 L451.5 606.88 L453 605.1 L454.87 606.42 L456.73 608.27 L458.6 609.6 L460.18 611.88 L461.76 613.22 L463.34 614.47 L464.92 616.26 L466.5 618.6" class="ln"/>
<a href="#"><text x="248.3" y="580.56" class="tt" style="font-size:23.08px">598</text></a>
<rect x="229.05" y="582.6" width="38.5" height="1.9" fill="#1d63c6"/>
<g transform="translate(654.3,660.9) scale(1.0310,1.0600)"><text class="wmp" transform="translate(-2,34.6) skewX(-20) scale(1.38,1)">みん</text><g mask="url(#stripe)"><text class="wmg" transform="translate(112.3,36) skewX(-20) scale(1.355,1)">レポ</text></g><rect x="140" y="3.55" width="17.5" height="1.7" fill="#bebebf"/><rect x="146" y="9.35" width="12" height="1.7" fill="#bebebf"/><rect x="138" y="19.65" width="13" height="1.7" fill="#bebebf"/><rect x="128" y="31.15" width="29.4" height="1.7" fill="#bebebf"/><rect x="200" y="14.25" width="17" height="1.7" fill="#bebebf"/><rect x="211" y="23.35" width="20.2" height="1.7" fill="#bebebf"/><rect x="200" y="35.55" width="24.4" height="1.7" fill="#bebebf"/><rect x="196" y="3.85" width="35.9" height="1.7" fill="#bebebf"/></g>
<line x1="548.2" y1="596.1" x2="988.3" y2="596.1" stroke="rgba(0,0,0,0.1)" stroke-width="1.2"/>
<line x1="548.2" y1="635.94" x2="988.3" y2="635.94" stroke="rgba(0,0,0,0.1)" stroke-width="1.2"/>
<line x1="548.2" y1="675.78" x2="988.3" y2="675.78" stroke="rgba(0,0,0,0.1)" stroke-width="1.2"/>
<line x1="548.2" y1="715.62" x2="988.3" y2="715.62" stroke="rgba(0,0,0,0.2)" stroke-width="1.5"/>
<line x1="548.2" y1="755.46" x2="988.3" y2="755.46" stroke="rgba(0,0,0,0.1)" stroke-width="1.2"/>
<line x1="548.2" y1="795.3" x2="988.3" y2="795.3" stroke="rgba(0,0,0,0.1)" stroke-width="1.2"/>
<line x1="564" y1="596.1" x2="564" y2="795.3" stroke="rgba(0,0,0,0.1)" stroke-width="1.2"/>
<text x="547.7" y="601.57" class="lb">6000</text>
<text x="547.7" y="641.41" class="lb">4000</text>
<text x="547.7" y="681.25" class="lb">2000</text>
<text x="547.7" y="721.09" class="lb">0</text>
<text x="547.7" y="760.93" class="lb">-2000</text>
<text x="547.7" y="800.77" class="lb">-4000</text>
<path d="M564.4 712.2 L566.6 712.4 L568.8 713.48 L571 713.68 L573.2 714.43 L575.4 715.51 L577.6 716.2 L579.43 717.16 L581.27 717.6 L583.1 718.3 L584.93 718.92 L586.77 719.95 L588.6 721 L590.8 721.07 L593 722.75 L595.2 722.8 L597.03 723.99 L598.87 724.77 L600.7 725.54 L602.53 725.87 L604.37 727.08 L606.2 727.42 L608.03 728.55 L609.87 729.9 L611.7 730.13 L613.53 731.47 L615.37 732.19 L617.2 732.7 L619 734.06 L620.8 734.3 L622.6 735.57 L624.4 736.41 L626.2 737.66 L628 738.17 L629.8 739.31 L631.6 740.13 L633.4 740.94 L635.2 742.01 L637 742.6 L638.8 743.72 L640.6 744.17 L642.4 745.37 L644.2 746.62 L646 747.68 L647.8 748.81 L649.6 749.55 L651.4 750.55 L653.2 752.13 L655 752.65 L656.8 753.6 L658.69 754.45 L660.57 755.94 L662.46 756.8 L664.34 757.07 L666.23 757.86 L668.11 758.79 L670 760.2 L671.47 758.84 L672.93 756.79 L674.4 756.29 L675.87 754.25 L677.33 752.58 L678.8 751.23 L680.27 749.82 L681.73 748.65 L683.2 747 L684.85 744.99 L686.5 743.84 L688.15 742.68 L689.8 741.46 L691.45 739.42 L693.1 738.24 L694.75 735.91 L696.4 734.9 L698.16 733.53 L699.92 732.74 L701.68 731.31 L703.44 729.27 L705.2 728.2 L706.96 726.61 L708.72 725.16 L710.48 724.48 L712.24 723.03 L714 721.7 L715.76 720.29 L717.52 719.28 L719.28 717.77 L721.04 716.5 L722.8 715.62 L724.56 714.41 L726.32 713.3 L728.08 711.66 L729.84 710.73 L731.6 709.6 L733.43 709.03 L735.27 707.59 L737.1 706.61 L738.93 706 L740.77 705.42 L742.6 704.1 L744.36 702.31 L746.12 700.69 L747.88 698.71 L749.64 697.77 L751.4 696 L753.33 694.43 L755.25 693.8 L757.17 692.36 L759.1 690.9 L761.3 689.81 L763.5 689.35 L765.7 688.7 L767.53 689.95 L769.37 690.74 L771.2 692 L773.1 692.6 L775 693.36 L776.9 694.56 L778.8 694.8 L781 695.59 L783.2 694.97 L785.4 695.57 L787.6 695.9 L789.49 696.74 L791.37 697.62 L793.26 698.82 L795.14 699.4 L797.03 699.78 L798.91 700.8 L800.8 701.8 L802.45 700.55 L804.1 698.59 L805.75 698.07 L807.4 696.39 L809.05 695.19 L810.7 693.09 L812.35 691.77 L814 690.4 L815.52 689.17 L817.05 686.98 L818.57 686.55 L820.09 685.04 L821.62 683.68 L823.14 682.13 L824.66 679.9 L826.18 679.21 L827.71 677.74 L829.23 676.17 L830.75 674.45 L832.28 673.06 L833.8 671.7 L835.63 672.44 L837.47 674.27 L839.3 675.97 L841.13 676.34 L842.97 678.51 L844.8 679.4 L846.78 680.26 L848.76 681.93 L850.74 682.64 L852.72 683.49 L854.7 684.9 L856.74 683.94 L858.79 683.08 L860.83 682.18 L862.87 682.09 L864.91 681.8 L866.96 680.75 L869 679.8 L870.89 681.01 L872.77 682.24 L874.66 682.98 L876.54 684.47 L878.43 685.15 L880.31 685.75 L882.2 687.1 L883.99 688.56 L885.78 688.79 L887.56 689.44 L889.35 690.97 L891.14 691.72 L892.92 693.13 L894.71 694.23 L896.5 694.8 L898.04 693.48 L899.58 690.95 L901.12 690.06 L902.66 687.44 L904.2 686 L905.58 684.07 L906.95 682.93 L908.33 680.52 L909.7 679.25 L911.08 677.75 L912.45 676.53 L913.83 674.05 L915.2 672.8 L917.4 672.5 L919.6 670.99 L921.8 670.48 L924 669.5 L925.96 667.98 L927.91 667.54 L929.87 667.05 L931.82 665.29 L933.78 664.9 L935.73 663.84 L937.69 662.22 L939.64 661.51 L941.6 660.7 L943.17 659.68 L944.74 657.97 L946.31 656.24 L947.89 654.8 L949.46 653.22 L951.03 651.96 L952.6 650.8 L954.17 649.12 L955.74 648.69 L957.31 646.7 L958.89 646.1 L960.46 644.68 L962.03 643.68 L963.6 642 L965.07 640.75 L966.53 639.57 L968 637.54 L969.47 636.62 L970.93 635.22 L972.4 633.6" class="ln"/>
<a href="#"><text x="749.3" y="577.06" class="tt" style="font-size:23.92px">225</text></a>
<rect x="729.35" y="578.8" width="39.9" height="1.9" fill="#1d63c6"/>
<g transform="translate(158,932.5) scale(1.0030,1.0200)"><text class="wmp" transform="translate(-2,34.6) skewX(-20) scale(1.38,1)">みん</text><g mask="url(#stripe)"><text class="wmg" transform="translate(112.3,36) skewX(-20) scale(1.355,1)">レポ</text></g><rect x="140" y="3.55" width="17.5" height="1.7" fill="#bebebf"/><rect x="146" y="9.35" width="12" height="1.7" fill="#bebebf"/><rect x="138" y="19.65" width="13" height="1.7" fill="#bebebf"/><rect x="128" y="31.15" width="29.4" height="1.7" fill="#bebebf"/><rect x="200" y="14.25" width="17" height="1.7" fill="#bebebf"/><rect x="211" y="23.35" width="20.2" height="1.7" fill="#bebebf"/><rect x="200" y="35.55" width="24.4" height="1.7" fill="#bebebf"/><rect x="196" y="3.85" width="35.9" height="1.7" fill="#bebebf"/></g>
<line x1="50.8" y1="871.2" x2="478.8" y2="871.2" stroke="rgba(0,0,0,0.1)" stroke-width="1.2"/>
<line x1="50.8" y1="918.83" x2="478.8" y2="918.83" stroke="rgba(0,0,0,0.1)" stroke-width="1.2"/>
<line x1="50.8" y1="966.45" x2="478.8" y2="966.45" stroke="rgba(0,0,0,0.1)" stroke-width="1.2"/>
<line x1="50.8" y1="1014.08" x2="478.8" y2="1014.08" stroke="rgba(0,0,0,0.1)" stroke-width="1.2"/>
<line x1="50.8" y1="1061.7" x2="478.8" y2="1061.7" stroke="rgba(0,0,0,0.2)" stroke-width="1.5"/>
<line x1="66.6" y1="871.2" x2="66.6" y2="1061.7" stroke="rgba(0,0,0,0.1)" stroke-width="1.2"/>
<text x="50.3" y="876.67" class="lb">2000</text>
<text x="50.3" y="924.3" class="lb">1500</text>
<text x="50.3" y="971.92" class="lb">1000</text>
<text x="50.3" y="1019.55" class="lb">500</text>
<text x="50.3" y="1067.17" class="lb">0</text>
<path d="M66.4 1059.6 L67.3 1057.61 L68.2 1055.14 L69.1 1053.17 L70 1051 L70.6 1048.93 L71.2 1046.69 L71.8 1044.45 L72.4 1042.18 L73 1040.59 L73.6 1038.93 L74.2 1036.73 L74.8 1034.47 L75.4 1032.25 L76 1030 L76.43 1028.42 L76.86 1026.12 L77.29 1023.97 L77.71 1021.54 L78.14 1019.54 L78.57 1018.48 L79 1015.78 L79.43 1014.05 L79.86 1011.83 L80.29 1009.79 L80.71 1008.09 L81.14 1006.53 L81.57 1003.53 L82 1002 L83 999.31 L84 997.98 L85 995.04 L86 993 L86.62 990.7 L87.25 988.54 L87.88 987.2 L88.5 984.76 L89.12 983.22 L89.75 981.13 L90.38 979.36 L91 977 L93 978.47 L95 979 L96 980.73 L97 983.12 L98 984.92 L99 986 L100 988 L102 989.67 L104 991.47 L106 992.4 L108 992 L108.55 989.89 L109.09 987.82 L109.64 986.32 L110.18 984.04 L110.73 981.75 L111.27 980.21 L111.82 978.05 L112.36 976.07 L112.91 974.47 L113.45 972.35 L114 970 L114.55 967.47 L115.09 965.56 L115.64 964.23 L116.18 962.07 L116.73 960.06 L117.27 957.53 L117.82 955.81 L118.36 953.51 L118.91 951.91 L119.45 950.03 L120 948 L121 945.57 L122 944 L123 942.5 L124 939.96 L125 937.8 L126 936 L129 936 L129.44 933.73 L129.89 931.94 L130.33 929.73 L130.78 927.15 L131.22 925.91 L131.67 923.77 L132.11 921.64 L132.56 919.02 L133 917 L133.38 915.46 L133.77 912.66 L134.15 910.25 L134.54 908.39 L134.92 906.44 L135.31 904.24 L135.69 902.66 L136.08 900.54 L136.46 898.57 L136.85 896.72 L137.23 894.21 L137.62 892.53 L138 890 L139.4 888.4 L140.8 886.5 L142.2 884.91 L143.6 884.01 L145 882.4 L146.75 884.36 L148.5 885.24 L150.25 887.81 L152 889 L154 890.58 L156 892.36 L158 893.6 L160.5 895.21 L163 896 L164 897.82 L165 899.58 L166 901.29 L167 903.26 L168 905.56 L169 907.24 L170 909 L170.9 911.13 L171.8 912.67 L172.7 914.78 L173.6 916.87 L174.5 918.72 L175.4 920.31 L176.3 922.23 L177.2 923.97 L178.1 925.81 L179 928 L180.75 929.13 L182.5 930 L184.25 931.69 L186 933 L187.33 934.36 L188.67 935.57 L190 937.26 L191.33 938.5 L192.67 940.81 L194 942 L195.6 943.49 L197.2 945.21 L198.8 946.12 L200.4 947.58 L202 949 L202.67 951.31 L203.33 953.22 L204 954.3 L204.67 956.09 L205.33 958.89 L206 960.45 L206.67 962.15 L207.33 964.35 L208 966 L208.8 968.09 L209.6 969.76 L210.4 972.03 L211.2 974.27 L212 976 L212.86 977.71 L213.71 980.49 L214.57 982.03 L215.43 983.51 L216.29 986.39 L217.14 987.54 L218 990 L219.75 988.81 L221.5 987.98 L223.25 985.76 L225 985 L226.6 983.43 L228.2 982.27 L229.8 981.86 L231.4 980.24 L233 979 L233.4 976.7 L233.8 975.38 L234.2 972.64 L234.6 970.79 L235 969.2 L235.4 966.92 L235.8 965.3 L236.2 962.49 L236.6 961.03 L237 959 L238.8 960.42 L240.6 961.4 L242.4 961.45 L244.2 963.33 L246 964 L247.8 965.14 L249.6 966.47 L251.4 967.91 L253.2 969.91 L255 971 L256.7 972.85 L258.4 974 L259.52 971.88 L260.65 970.56 L261.77 969.13 L262.9 967.7 L264.02 966.07 L265.15 964.37 L266.27 962.23 L267.4 960.5 L269.27 962.75 L271.13 964.16 L273 966.1 L273.85 967.7 L274.7 969.73 L275.55 971.09 L276.4 973.19 L277.25 974.77 L278.1 977.57 L278.95 978.75 L279.8 980.8 L280.67 982.62 L281.53 985.05 L282.4 986.17 L283.27 988.49 L284.13 990.33 L285 991.82 L285.87 993.33 L286.73 995.93 L287.6 997.6 L288.1 999.53 L288.6 1002.26 L289.1 1003.87 L289.6 1006.26 L290.1 1008.57 L290.6 1010.62 L291.1 1012.91 L291.6 1014.32 L292.1 1016.8 L292.81 1014.84 L293.53 1012.46 L294.24 1010.84 L294.95 1008.62 L295.66 1007.07 L296.38 1004.83 L297.09 1003.44 L297.8 1001 L298.58 998.71 L299.36 996.92 L300.14 994.97 L300.92 992.82 L301.7 991.29 L302.48 989.09 L303.26 987.87 L304.04 985.86 L304.82 983.76 L305.6 981.9 L307.87 980.7 L310.13 978.89 L312.4 978.1 L314.63 976.84 L316.87 975.33 L319.1 974.5 L320.05 975.98 L321 977.8 L321.95 980.22 L322.9 981.83 L323.85 983.54 L324.8 985.3 L326.14 987.41 L327.48 988.54 L328.82 990.17 L330.16 992.9 L331.5 994.3 L332.63 996.27 L333.77 997.44 L334.9 1000.07 L336.03 1001.84 L337.17 1003.47 L338.3 1005.1 L340.17 1003.54 L342.03 1002.28 L343.9 1001.02 L345.77 1000.16 L347.63 999.01 L349.5 997.6 L351.3 996.66 L353.1 995.64 L354.9 994.35 L356.7 994.38 L358.5 993.1 L360.77 991.55 L363.03 990.03 L365.3 989.3 L366.42 990.84 L367.54 992.22 L368.66 994.82 L369.78 995.67 L370.9 997.6 L372.88 995.98 L374.85 994.67 L376.82 992.76 L378.8 991.6 L380.2 989.38 L381.6 987.68 L383 986.05 L384.4 985.31 L385.8 983.49 L387.2 981.42 L388.6 979.4 L390 978.1 L391.26 976.67 L392.51 973.96 L393.77 972.16 L395.02 970.34 L396.28 968.63 L397.53 967.59 L398.79 965.5 L400.04 963.93 L401.3 961.6 L402.12 963.83 L402.93 965.86 L403.75 967.87 L404.57 970.19 L405.38 972.27 L406.2 974 L406.77 972.33 L407.35 970.48 L407.92 968.56 L408.49 966.76 L409.06 964.71 L409.64 962.24 L410.21 960.53 L410.78 958.77 L411.35 956.79 L411.93 954.21 L412.5 952.6 L413.26 950.36 L414.01 948.42 L414.77 946.5 L415.52 945.37 L416.28 943.07 L417.03 941.81 L417.79 939.98 L418.54 937.6 L419.3 935.8 L421.1 937.09 L422.9 939.36 L424.7 940.34 L426.5 941.64 L428.3 943.6 L429.53 945.42 L430.75 947.06 L431.98 948.22 L433.21 950.86 L434.44 951.89 L435.66 953.82 L436.89 955.9 L438.12 957.13 L439.35 959.42 L440.57 961.04 L441.8 962.3 L443.45 960.44 L445.1 958.3 L446.68 959.15 L448.26 960.99 L449.84 962.72 L451.42 963.47 L453 965 L454.58 966.65 L456.16 968.05 L457.74 970.22 L459.32 971.16 L460.9 972.9" class="ln"/>
<a href="#"><text x="250" y="852.66" class="tt" style="font-size:23.08px">580</text></a>
<rect x="230.75" y="854.7" width="38.5" height="1.9" fill="#1d63c6"/>
<g transform="translate(641.7,928.5) scale(1.0530,1.0925)"><text class="wmp" transform="translate(-2,34.6) skewX(-20) scale(1.38,1)">みん</text><g mask="url(#stripe)"><text class="wmg" transform="translate(112.3,36) skewX(-20) scale(1.355,1)">レポ</text></g><rect x="140" y="3.55" width="17.5" height="1.7" fill="#bebebf"/><rect x="146" y="9.35" width="12" height="1.7" fill="#bebebf"/><rect x="138" y="19.65" width="13" height="1.7" fill="#bebebf"/><rect x="128" y="31.15" width="29.4" height="1.7" fill="#bebebf"/><rect x="200" y="14.25" width="17" height="1.7" fill="#bebebf"/><rect x="211" y="23.35" width="20.2" height="1.7" fill="#bebebf"/><rect x="200" y="35.55" width="24.4" height="1.7" fill="#bebebf"/><rect x="196" y="3.85" width="35.9" height="1.7" fill="#bebebf"/></g>
<line x1="537.8" y1="863.2" x2="981.2" y2="863.2" stroke="rgba(0,0,0,0.1)" stroke-width="1.2"/>
<line x1="537.8" y1="896.88" x2="981.2" y2="896.88" stroke="rgba(0,0,0,0.1)" stroke-width="1.2"/>
<line x1="537.8" y1="930.57" x2="981.2" y2="930.57" stroke="rgba(0,0,0,0.1)" stroke-width="1.2"/>
<line x1="537.8" y1="964.25" x2="981.2" y2="964.25" stroke="rgba(0,0,0,0.1)" stroke-width="1.2"/>
<line x1="537.8" y1="997.93" x2="981.2" y2="997.93" stroke="rgba(0,0,0,0.1)" stroke-width="1.2"/>
<line x1="537.8" y1="1031.62" x2="981.2" y2="1031.62" stroke="rgba(0,0,0,0.2)" stroke-width="1.5"/>
<line x1="537.8" y1="1065.3" x2="981.2" y2="1065.3" stroke="rgba(0,0,0,0.1)" stroke-width="1.2"/>
<line x1="554.2" y1="863.2" x2="554.2" y2="1065.3" stroke="rgba(0,0,0,0.1)" stroke-width="1.2"/>
<text x="537.3" y="868.67" class="lb">10000</text>
<text x="537.3" y="902.35" class="lb">8000</text>
<text x="537.3" y="936.04" class="lb">6000</text>
<text x="537.3" y="969.72" class="lb">4000</text>
<text x="537.3" y="1003.4" class="lb">2000</text>
<text x="537.3" y="1037.09" class="lb">0</text>
<text x="537.3" y="1070.77" class="lb">-2000</text>
<path d="M553.8 1028.8 L555.8 1029.65 L557.8 1030.28 L559.8 1030.7 L561.8 1031.49 L563.8 1032.5 L565.97 1031.24 L568.15 1030.64 L570.33 1029.99 L572.5 1028.8 L574.58 1029.66 L576.67 1030.23 L578.75 1030.81 L580.83 1032.11 L582.92 1032.63 L585 1033.8 L586.88 1035.08 L588.75 1035.35 L590.62 1036.06 L592.5 1037.65 L594.38 1038.18 L596.25 1038.32 L598.12 1039.28 L600 1040.5 L602.04 1040.84 L604.08 1042.12 L606.11 1042.95 L608.15 1043.49 L610.19 1044.83 L612.22 1045.17 L614.26 1045.64 L616.3 1047 L618.26 1046.16 L620.21 1045.34 L622.17 1044.55 L624.13 1043.19 L626.09 1041.99 L628.04 1041.27 L630 1040.5 L631.79 1039.48 L633.57 1038.54 L635.36 1037.63 L637.14 1036.9 L638.93 1035.24 L640.71 1034.8 L642.5 1033.8 L644.64 1032.67 L646.79 1032.34 L648.93 1031.63 L651.07 1031.35 L653.21 1030.14 L655.36 1029.3 L657.5 1028.8 L659.54 1027.34 L661.58 1026.97 L663.61 1025.53 L665.65 1024.94 L667.69 1024.53 L669.72 1022.85 L671.76 1022.49 L673.8 1021.3 L675.88 1022.19 L677.97 1022.32 L680.05 1023.33 L682.13 1024.29 L684.22 1023.86 L686.3 1025 L688.47 1024.39 L690.65 1023.09 L692.83 1022.3 L695 1021.3 L696.61 1020.63 L698.23 1018.42 L699.84 1018.23 L701.46 1016.76 L703.07 1015.3 L704.69 1013.74 L706.3 1013 L708.09 1011.54 L709.87 1011.35 L711.66 1009.91 L713.44 1008.84 L715.23 1007.48 L717.01 1006.05 L718.8 1005.5 L720.82 1006.01 L722.85 1006.75 L724.88 1008.35 L726.9 1009.49 L728.92 1009.36 L730.95 1010.58 L732.98 1011.86 L735 1012.5 L736.97 1013.1 L738.94 1014.53 L740.91 1015.7 L742.89 1016.2 L744.86 1016.52 L746.83 1017.78 L748.8 1018.8 L750.67 1017.77 L752.53 1016.16 L754.4 1014.66 L756.27 1014.01 L758.13 1012.09 L760 1011.3 L761.67 1010.16 L763.33 1009.22 L765 1008.05 L766.67 1006.49 L768.33 1005.34 L770 1003.8 L771.67 1002.09 L773.33 1001.22 L775 999.68 L776.67 999.09 L778.33 997.68 L780 996.3 L782.25 996.86 L784.5 998.08 L786.75 999.18 L789 999.6 L790.83 998.55 L792.67 996.64 L794.5 996.28 L796.33 994.04 L798.17 993.69 L800 992 L801.82 991.53 L803.64 989.72 L805.45 989.25 L807.27 987.92 L809.09 987.65 L810.91 986.79 L812.73 985.24 L814.55 984.94 L816.36 983.32 L818.18 982.5 L820 982 L821.82 981.12 L823.64 979.98 L825.45 978.77 L827.27 977.43 L829.09 976.06 L830.91 975.48 L832.73 974.07 L834.55 972.64 L836.36 972.1 L838.18 971.21 L840 969.6 L841.67 968.75 L843.33 967.22 L845 965.61 L846.67 964.91 L848.33 964.04 L850 962.11 L851.67 961.01 L853.33 959.58 L855 959.2 L856.67 956.91 L858.33 955.91 L860 955 L861.82 954.27 L863.64 952.54 L865.45 952.36 L867.27 950.85 L869.09 950.1 L870.91 949.12 L872.73 947.55 L874.55 946.22 L876.36 945.39 L878.18 944.14 L880 943.6 L881.67 942.17 L883.33 940.94 L885 940.17 L886.67 938.53 L888.33 937.45 L890 936.56 L891.67 935.5 L893.33 935.03 L895 933.81 L896.67 932.37 L898.33 931.23 L900 930 L901.82 928.68 L903.64 927.32 L905.45 926.18 L907.27 925.28 L909.09 924.63 L910.91 922.56 L912.73 922.16 L914.55 920.49 L916.36 919.7 L918.18 918.29 L920 917 L921.6 915.4 L923.2 914.57 L924.8 913.23 L926.4 911.53 L928 910 L930 908.77 L932 907.85 L934 907.73 L936 906.86 L938 905.39 L940 905 L942 903.3 L944 902.24 L946 901.79 L948 900 L950 899.2 L952 898.34 L954 897.28 L956 896.21 L958 894.79 L960 894.4" class="ln"/>
<a href="#"><text x="739.3" y="843.61" class="tt" style="font-size:24.34px">217</text></a>
<rect x="719" y="845.2" width="40.6" height="1.9" fill="#1d63c6"/>
<g transform="translate(161.7,1208) scale(1.0422,1.0725)"><text class="wmp" transform="translate(-2,34.6) skewX(-20) scale(1.38,1)">みん</text><g mask="url(#stripe)"><text class="wmg" transform="translate(112.3,36) skewX(-20) scale(1.355,1)">レポ</text></g><rect x="140" y="3.55" width="17.5" height="1.7" fill="#bebebf"/><rect x="146" y="9.35" width="12" height="1.7" fill="#bebebf"/><rect x="138" y="19.65" width="13" height="1.7" fill="#bebebf"/><rect x="128" y="31.15" width="29.4" height="1.7" fill="#bebebf"/><rect x="200" y="14.25" width="17" height="1.7" fill="#bebebf"/><rect x="211" y="23.35" width="20.2" height="1.7" fill="#bebebf"/><rect x="200" y="35.55" width="24.4" height="1.7" fill="#bebebf"/><rect x="196" y="3.85" width="35.9" height="1.7" fill="#bebebf"/></g>
<line x1="49.8" y1="1143.6" x2="496" y2="1143.6" stroke="rgba(0,0,0,0.1)" stroke-width="1.2"/>
<line x1="49.8" y1="1193.12" x2="496" y2="1193.12" stroke="rgba(0,0,0,0.1)" stroke-width="1.2"/>
<line x1="49.8" y1="1242.65" x2="496" y2="1242.65" stroke="rgba(0,0,0,0.1)" stroke-width="1.2"/>
<line x1="49.8" y1="1292.17" x2="496" y2="1292.17" stroke="rgba(0,0,0,0.1)" stroke-width="1.2"/>
<line x1="49.8" y1="1341.7" x2="496" y2="1341.7" stroke="rgba(0,0,0,0.2)" stroke-width="1.5"/>
<line x1="65.6" y1="1143.6" x2="65.6" y2="1341.7" stroke="rgba(0,0,0,0.1)" stroke-width="1.2"/>
<text x="49.3" y="1149.07" class="lb">8000</text>
<text x="49.3" y="1198.59" class="lb">6000</text>
<text x="49.3" y="1248.12" class="lb">4000</text>
<text x="49.3" y="1297.64" class="lb">2000</text>
<text x="49.3" y="1347.17" class="lb">0</text>
<path d="M65.5 1340.1 L68.25 1338.54 L71 1337.9 L73.2 1336.88 L75.4 1336.61 L77.6 1335.01 L79.8 1334.6 L82 1333.52 L84.2 1332.75 L86.4 1331.68 L88.6 1330.6 L90.8 1329.21 L93 1328.88 L95.2 1327.59 L97.4 1326.5 L98.64 1324.96 L99.88 1323.12 L101.11 1321.25 L102.35 1319.16 L103.59 1318.12 L104.83 1315.93 L106.06 1314.35 L107.3 1312.6 L108.77 1310.99 L110.23 1309.89 L111.7 1308.12 L113.17 1307.05 L114.63 1305.02 L116.1 1303.8 L118.3 1303.81 L120.5 1303.8 L122.48 1304.5 L124.46 1305.4 L126.44 1305.68 L128.42 1307 L130.4 1307.8 L132.23 1308.32 L134.07 1309.87 L135.9 1310.64 L137.73 1310.92 L139.57 1312.32 L141.4 1312.6 L143.6 1311.52 L145.8 1311.14 L148 1310.8 L150.2 1311.28 L152.4 1312.47 L154.6 1312.6 L155.7 1309.92 L156.8 1308.07 L157.9 1306 L160.65 1306.71 L163.4 1306.4 L165.6 1307.39 L167.8 1309.4 L170 1310.4 L171.93 1310.94 L173.85 1311.58 L175.77 1311.8 L177.7 1312.6 L179.62 1311.12 L181.55 1310.53 L183.47 1308.76 L185.4 1308.2 L187.6 1307.38 L189.8 1305.51 L192 1304.9 L193.93 1303.73 L195.85 1303.82 L197.77 1302.46 L199.7 1302 L201.9 1303.19 L204.1 1303.8 L205.47 1301.52 L206.85 1300.31 L208.22 1298.56 L209.6 1296.1 L210.7 1294.71 L211.8 1292.14 L212.9 1290.62 L214 1288.85 L215.1 1286.6 L216.75 1285.62 L218.4 1283.8 L220.05 1282.62 L221.7 1282.28 L223.35 1281.12 L225 1279.6 L226.57 1278.07 L228.14 1276.97 L229.71 1274.81 L231.29 1273.41 L232.86 1271.91 L234.43 1269.65 L236 1268.6 L237.65 1267.32 L239.3 1265.5 L240.95 1264.77 L242.6 1263.4 L244.25 1262.72 L245.9 1260.9 L247.88 1259.99 L249.86 1259.15 L251.84 1258 L253.82 1257.21 L255.8 1256.5 L257.69 1255.41 L259.57 1255.46 L261.46 1254.22 L263.34 1253.6 L265.23 1252.49 L267.11 1251.57 L269 1251 L271.43 1250.78 L273.87 1250.9 L276.3 1250.3 L278.18 1249.54 L280.06 1248.62 L281.94 1247.8 L283.82 1246.4 L285.7 1246.1 L287.63 1246.76 L289.57 1247.47 L291.5 1248.89 L293.43 1249.38 L295.37 1250.23 L297.3 1251 L299.4 1252.36 L301.5 1253.13 L303.6 1253.63 L305.7 1254.38 L307.8 1255.2 L309.9 1254.66 L312 1253.16 L314.1 1251.52 L316.2 1251 L318 1249.65 L319.8 1249.15 L321.6 1247.3 L323.4 1246.75 L325.2 1245.64 L327 1243.68 L328.8 1243 L330.55 1241.35 L332.3 1240.87 L334.05 1239.76 L335.8 1238.63 L337.55 1237.49 L339.3 1236.3 L341.4 1237.57 L343.5 1237.47 L345.6 1238.62 L347.7 1239.2 L349.8 1238.13 L351.9 1237.93 L354 1237.08 L356.1 1235.66 L358.2 1235 L360 1233.95 L361.8 1232.89 L363.6 1232.76 L365.4 1231.55 L367.2 1230.31 L369 1230.08 L370.8 1228.7 L372.9 1227.47 L375 1227.11 L377.1 1226.32 L379.2 1224.7 L381.3 1223.82 L383.4 1223 L385.5 1223.05 L387.6 1223.7 L389.28 1224.77 L390.96 1226.34 L392.64 1227.36 L394.32 1228.09 L396 1229.3 L398.1 1230.49 L400.2 1231.18 L402.3 1231.67 L404.4 1232.5 L406.5 1231.04 L408.6 1230.92 L410.7 1229.42 L412.8 1228.14 L414.9 1227.53 L417 1226.6 L419.1 1226 L421.2 1224.5 L422.6 1223.14 L424 1221.48 L425.4 1219.5 L427.5 1219.02 L429.6 1218.34 L431.7 1216.46 L433.8 1215.62 L435.9 1215.3 L438 1213 L440.1 1211.1 L441.36 1209.18 L442.62 1207.61 L443.88 1206.18 L445.14 1204.53 L446.4 1203.1 L447.97 1201.47 L449.55 1199.46 L451.12 1197.67 L452.7 1195.8 L454.3 1194.77 L455.9 1193.34 L457.5 1192.04 L459.1 1191.18 L460.7 1189.4 L463 1190.1 L465.3 1190.9 L466.55 1192.68 L467.8 1194.3" class="ln"/>
<a href="#"><text x="257.5" y="1124.33" class="tt" style="font-size:24.1px">575</text></a>
<rect x="237.4" y="1126" width="40.2" height="1.9" fill="#1d63c6"/>
<g transform="translate(670.4,1208) scale(1.0142,1.0525)"><text class="wmp" transform="translate(-2,34.6) skewX(-20) scale(1.38,1)">みん</text><g mask="url(#stripe)"><text class="wmg" transform="translate(112.3,36) skewX(-20) scale(1.355,1)">レポ</text></g><rect x="140" y="3.55" width="17.5" height="1.7" fill="#bebebf"/><rect x="146" y="9.35" width="12" height="1.7" fill="#bebebf"/><rect x="138" y="19.65" width="13" height="1.7" fill="#bebebf"/><rect x="128" y="31.15" width="29.4" height="1.7" fill="#bebebf"/><rect x="200" y="14.25" width="17" height="1.7" fill="#bebebf"/><rect x="211" y="23.35" width="20.2" height="1.7" fill="#bebebf"/><rect x="200" y="35.55" width="24.4" height="1.7" fill="#bebebf"/><rect x="196" y="3.85" width="35.9" height="1.7" fill="#bebebf"/></g>
<line x1="561.4" y1="1146.9" x2="994.8" y2="1146.9" stroke="rgba(0,0,0,0.1)" stroke-width="1.2"/>
<line x1="561.4" y1="1195" x2="994.8" y2="1195" stroke="rgba(0,0,0,0.1)" stroke-width="1.2"/>
<line x1="561.4" y1="1243.1" x2="994.8" y2="1243.1" stroke="rgba(0,0,0,0.1)" stroke-width="1.2"/>
<line x1="561.4" y1="1291.2" x2="994.8" y2="1291.2" stroke="rgba(0,0,0,0.1)" stroke-width="1.2"/>
<line x1="561.4" y1="1339.3" x2="994.8" y2="1339.3" stroke="rgba(0,0,0,0.2)" stroke-width="1.5"/>
<line x1="576.9" y1="1146.9" x2="576.9" y2="1339.3" stroke="rgba(0,0,0,0.1)" stroke-width="1.2"/>
<text x="560.9" y="1152.37" class="lb">4000</text>
<text x="560.9" y="1200.47" class="lb">3000</text>
<text x="560.9" y="1248.57" class="lb">2000</text>
<text x="560.9" y="1296.67" class="lb">1000</text>
<text x="560.9" y="1344.77" class="lb">0</text>
<path d="M576.9 1338.2 L577.17 1336.15 L577.45 1333.45 L577.73 1331.8 L578 1329 L579.17 1326.17 L580.33 1324.47 L581.5 1322.1 L583.03 1320.13 L584.57 1318.02 L586.1 1316.3 L588.4 1317.27 L590.7 1319.5 L593 1320.3 L594.84 1321.35 L596.68 1321.71 L598.52 1322.52 L600.36 1323.84 L602.2 1324.9 L604.2 1326.35 L606.2 1326.77 L608.2 1328.07 L610.2 1329.5 L611.19 1327.18 L612.17 1325.67 L613.16 1323.79 L614.14 1322.33 L615.13 1320.62 L616.11 1317.74 L617.1 1316.3 L619.03 1315.06 L620.97 1314.65 L622.9 1314 L625.2 1314.97 L627.5 1315.2 L629.8 1316.3 L631.33 1318.1 L632.87 1318.99 L634.4 1321 L635.93 1320.08 L637.47 1318.4 L639 1316.41 L640.53 1315.73 L642.07 1314.53 L643.6 1312.9 L645.9 1313.55 L648.2 1314.63 L650.5 1314.7 L652.34 1315.89 L654.18 1316.21 L656.02 1317.39 L657.86 1318.56 L659.7 1319.8 L661.43 1318.31 L663.15 1317.2 L664.88 1316.31 L666.6 1315.2 L668.6 1314.65 L670.6 1313.96 L672.6 1312.3 L674.6 1311.7 L675.76 1309.92 L676.91 1308.35 L678.07 1306.69 L679.23 1304.76 L680.39 1303.5 L681.54 1302.02 L682.7 1300.2 L684.12 1298.07 L685.55 1296.12 L686.98 1294.32 L688.4 1292.2 L689.78 1290.73 L691.16 1288.2 L692.54 1286.49 L693.92 1285.38 L695.3 1283 L697.32 1283.74 L699.35 1284.61 L701.38 1286.33 L703.4 1287.1 L705.7 1285.33 L708 1284.1 L710.3 1284.65 L712.6 1284.8 L714.13 1286.48 L715.67 1287.39 L717.2 1289.34 L718.73 1290.89 L720.27 1292.91 L721.8 1294 L723.38 1294.99 L724.95 1296.31 L726.52 1298.28 L728.1 1299.8 L729.67 1300.51 L731.25 1302.22 L732.82 1303.03 L734.4 1304.8 L736.7 1303.95 L739 1303.21 L741.3 1302.5 L743.23 1303.68 L745.17 1305 L747.1 1306 L748.63 1307.07 L750.17 1308.9 L751.7 1311.03 L753.23 1312.67 L754.77 1313.61 L756.3 1315.2 L758.3 1316.57 L760.3 1317.83 L762.3 1318.96 L764.3 1320.3 L765.92 1318.89 L767.54 1317.27 L769.16 1315.34 L770.78 1314.04 L772.4 1312.4 L774.12 1310.84 L775.83 1309.48 L777.55 1308.2 L779.27 1306.43 L780.98 1305.18 L782.7 1303.7 L784.53 1301.74 L786.35 1300.72 L788.17 1299.53 L790 1298 L792 1296.67 L794 1295.49 L796 1295.42 L798 1293.9 L800 1293 L802 1292.13 L804 1291.35 L806 1289.62 L808 1289.29 L810 1288.2 L812 1287 L814 1284.72 L816 1283 L817 1281.02 L818 1279.3 L819 1277.34 L820 1274.74 L821 1272.77 L822 1270.86 L823 1269 L824.67 1267.69 L826.33 1265.17 L828 1264 L828.75 1262.32 L829.5 1259.75 L830.25 1258.4 L831 1256.21 L831.75 1254.55 L832.5 1251.65 L833.25 1250.04 L834 1248 L836 1246.48 L838 1245.21 L840 1244 L841.33 1242.56 L842.67 1241.06 L844 1238.58 L845.33 1236.84 L846.67 1235.34 L848 1234 L849.5 1232.19 L851 1231.39 L852.5 1230.06 L854 1228.4 L856 1229.47 L858 1231.02 L860 1233 L862 1233.69 L864 1234.48 L866 1235.16 L868 1235.21 L870 1236 L870.25 1234.38 L870.5 1232.13 L870.75 1230.52 L871 1228.49 L871.25 1225.68 L871.5 1224.35 L871.75 1221.89 L872 1219.7 L872.25 1218.55 L872.5 1216.43 L872.75 1214.31 L873 1212 L874.75 1210.17 L876.5 1208.74 L878.25 1206.98 L880 1205 L881.2 1203.41 L882.4 1200.94 L883.6 1200.02 L884.8 1197.92 L886 1196 L888 1194.99 L890 1194.55 L892 1193 L893.67 1193.95 L895.33 1195.74 L897 1196.78 L898.67 1197.79 L900.33 1198.74 L902 1200 L903.8 1198.98 L905.6 1198.18 L907.4 1197.26 L909.2 1195.93 L911 1195 L913.5 1196.25 L916 1198 L917.67 1199.86 L919.33 1202.32 L921 1204 L922.75 1202.56 L924.5 1200.9 L926.25 1200.04 L928 1198 L929.67 1197.01 L931.33 1195.52 L933 1194.5 L934.67 1193.02 L936.33 1191.35 L938 1190 L940.5 1189.98 L943 1189 L944.67 1191.12 L946.33 1193.3 L948 1195 L948.5 1192.59 L949 1191.23 L949.5 1189.43 L950 1187 L951.67 1185.32 L953.33 1183.6 L955 1182.4 L956.67 1183.32 L958.33 1184.64 L960 1186 L962 1187.87 L964 1189 L966 1190.72 L968 1191.68 L970 1193.6" class="ln"/>
<a href="#"><text x="763.2" y="1127.95" class="tt" style="font-size:23.32px">590</text></a>
<rect x="743.75" y="1129.9" width="38.9" height="1.9" fill="#1d63c6"/>
<rect x="488.2" y="185" width="1.6" height="1.6" fill="#555"/><rect x="488.2" y="248.7" width="1.6" height="1.6" fill="#555"/>
<rect x="995.8" y="155.7" width="4.2" height="1.6" fill="#666"/><rect x="995.8" y="203.6" width="4.2" height="1.6" fill="#666"/><rect x="995.8" y="252.8" width="4.2" height="1.6" fill="#666"/>
</svg>
</body></html>
